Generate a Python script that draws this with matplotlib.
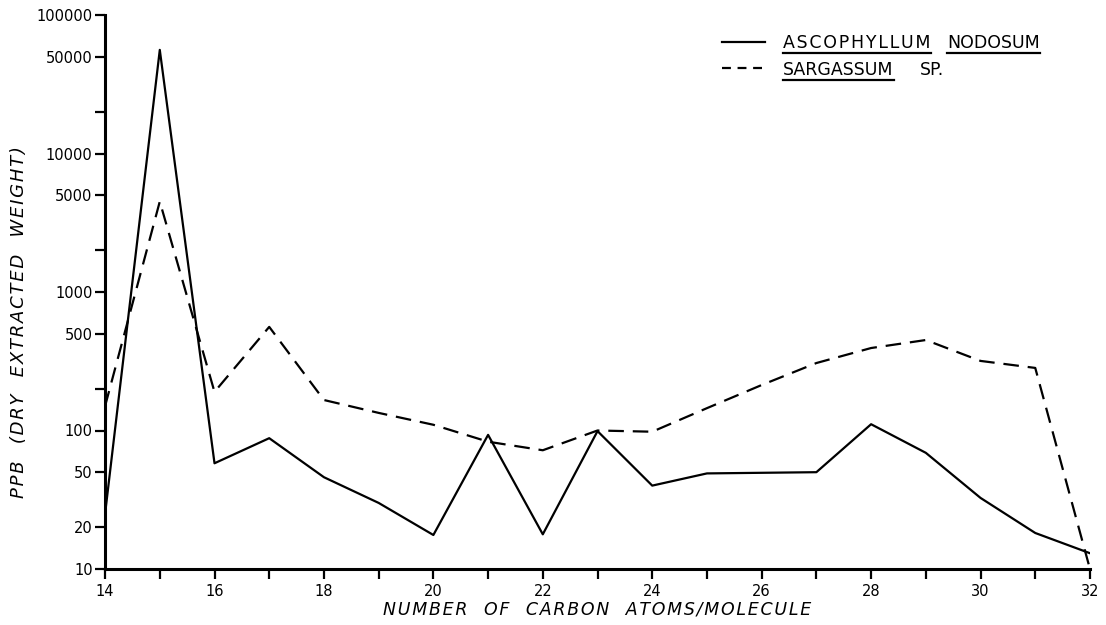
import matplotlib
matplotlib.use("Agg")
import matplotlib.pyplot as plt
from matplotlib.ticker import FixedLocator, NullLocator

# carbon number
carbons = list(range(14, 33))

# ppb
ascophyllum = [25, 56000, 58, 88, 46, 30, 17.6, 93, 17.8, 99, 40, 49, 49.5, 50,
               111, 69, 32.6, 18.2, 13]
sargassum = [150, 4500, 190, 560, 166, 134, 110, 83, 72, 100, 98, 145, 213, 307,
             394, 450, 318, 283, 10]

y_ticks = [10, 20, 50, 100, 200, 500, 1000, 2000, 5000, 10000, 20000, 50000, 100000]
y_labels = ["10", "20", "50", "100", "", "500", "1000", "", "5000", "10000", "",
            "50000", "100000"]
x_ticks = carbons
x_labels = [str(c) if c % 2 == 0 else "" for c in carbons]

plt.rcParams["font.family"] = "DejaVu Sans"


def spaced(s, gap="\u200a", word_gap="   "):
    # lettering-style tracking: hair space between letters, wide word gaps
    return word_gap.join(gap.join(w) for w in s.split(" "))


fig = plt.figure(figsize=(11.06, 6.25), dpi=100)
ax = fig.add_axes([0.095, 0.0896, 0.8905, 0.8864])

ax.plot(carbons, ascophyllum, color="black", lw=1.6)
ax.plot(carbons, sargassum, color="black", lw=1.6, dashes=(7, 4))

ax.set_yscale("log")
ax.set_xlim(14, 32)
ax.set_ylim(10, 100000)
ax.yaxis.set_major_locator(FixedLocator(y_ticks))
ax.yaxis.set_minor_locator(NullLocator())
ax.set_yticklabels(y_labels)
ax.set_xticks(x_ticks)
ax.set_xticklabels(x_labels)

for s in ("top", "right"):
    ax.spines[s].set_visible(False)
for s in ("left", "bottom"):
    ax.spines[s].set_linewidth(2.2)
ax.tick_params(direction="out", length=7, width=1.6, labelsize=10.5, pad=2)
ax.tick_params(axis="x", pad=4)

ax.set_xlabel(spaced("NUMBER OF CARBON ATOMS/MOLECULE"), fontsize=12.5,
              style="italic", labelpad=1)
ax.set_ylabel(spaced("PPB (DRY EXTRACTED WEIGHT)"), fontsize=13,
              style="italic")
ax.yaxis.set_label_coords(-0.078, 0.446)

# hand-drawn style legend with underlined latin names
def px(x, y):
    # figure pixel (from top-left) -> figure fraction
    return x / 1106, 1 - y / 625

fig.add_artist(plt.Line2D([px(722, 0)[0], px(765, 0)[0]], [px(0, 42)[1]] * 2,
                          color="black", lw=1.6))
fig.add_artist(plt.Line2D([px(722, 0)[0], px(765, 0)[0]], [px(0, 68)[1]] * 2,
                          color="black", lw=1.6, dashes=(4, 3)))

legend_words = [("ASCOPHYLLUM", 783, 48, True, True),
                ("NODOSUM", 947, 48, True, False),
                ("SARGASSUM", 783, 75, True, False),
                ("SP.", 920, 75, False, False)]
texts = []
for word, x, y, underline, track in legend_words:
    label = spaced(word) if track else word
    t = fig.text(*px(x, y), label, fontsize=12.5, ha="left", va="baseline")
    texts.append((t, underline, y))

renderer = fig.canvas.get_renderer()
for t, underline, y in texts:
    if not underline:
        continue
    bb = t.get_window_extent(renderer)
    yy = px(0, y + 5)[1]
    fig.add_artist(plt.Line2D([bb.x0 / 1106, bb.x1 / 1106], [yy, yy],
                              color="black", lw=1.6))

fig.savefig("out.png", dpi=100)
